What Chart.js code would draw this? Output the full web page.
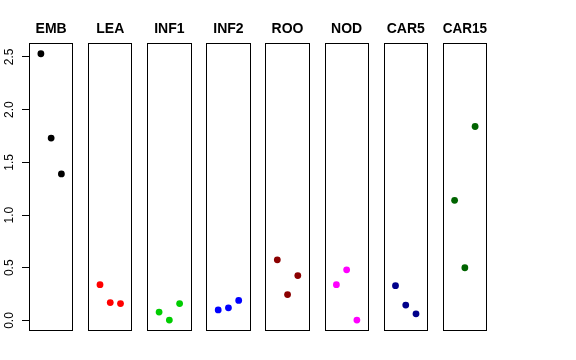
<!DOCTYPE html>
<html>
<head>
<meta charset="utf-8">
<script src="https://cdn.jsdelivr.net/npm/chart.js@4"></script>
<style>
  body { margin: 0; background: #fff; }
  #wrap { position: relative; width: 576px; height: 360px; overflow: hidden; }
  canvas { position: absolute; top: 0; }
</style>
</head>
<body>
<div id="wrap"></div>
<script>
// panel names and values (3 points per panel)
const panelNames = ['EMB', 'LEA', 'INF1', 'INF2', 'ROO', 'NOD', 'CAR5', 'CAR15'];
const EMB   = [2.53, 1.73, 1.39];
const LEA   = [0.34, 0.17, 0.16];
const INF1  = [0.08, 0.004, 0.16];
const INF2  = [0.10, 0.12, 0.19];
const ROO   = [0.575, 0.246, 0.426];
const NOD   = [0.34, 0.48, 0.004];
const CAR5  = [0.33, 0.146, 0.063];
const CAR15 = [1.14, 0.50, 1.84];
const seriesValues = [EMB, LEA, INF1, INF2, ROO, NOD, CAR5, CAR15];
const pointColors = ['#000000', '#FF0000', '#00CD00', '#0000FF', '#8B0000', '#FF00FF', '#00008B', '#006400'];
const yTicks = [0, 0.5, 1, 1.5, 2, 2.5];
const yMin = -0.097, yMax = 2.629;
const xMin = -0.16, xMax = 4.16;

// layout of the panel boxes
const boxLeft0 = 29, boxStep = 59.1, boxWidth = 44.3, boxBottom = 330.7;
const margin = 8;

Chart.defaults.font.family = "'Liberation Sans', Arial, Helvetica, sans-serif";
Chart.defaults.color = '#000';

// frame around each plot area
const boxPlugin = {
  id: 'box',
  afterDatasetsDraw(chart) {
    const a = chart.chartArea, ctx = chart.ctx;
    const l = Math.round(a.left) + 0.5, t = Math.round(a.top) + 0.5;
    const r = Math.round(a.right) - 0.5, b = Math.round(a.bottom) - 0.5;
    ctx.save();
    ctx.strokeStyle = '#000';
    ctx.lineWidth = 1;
    ctx.strokeRect(l, t, r - l, b - t);
    ctx.restore();
  }
};

const wrap = document.getElementById('wrap');

panelNames.forEach((name, i) => {
  const left = boxLeft0 + i * boxStep;
  const first = i === 0;
  const cLeft = first ? 0 : Math.floor(left - margin);
  const cRight = Math.ceil(left + boxWidth + margin);
  const canvas = document.createElement('canvas');
  canvas.width = cRight - cLeft;
  canvas.height = 360;
  canvas.style.left = cLeft + 'px';
  wrap.appendChild(canvas);

  new Chart(canvas, {
    type: 'scatter',
    data: {
      datasets: [{
        data: seriesValues[i].map((v, j) => ({ x: j + 1, y: v })),
        backgroundColor: pointColors[i],
        borderWidth: 0,
        pointRadius: 3.4,
        pointHoverRadius: 3.4
      }]
    },
    options: {
      responsive: false,
      animation: false,
      events: [],
      layout: {
        padding: {
          left: first ? 0 : left - cLeft,
          right: cRight - (left + boxWidth),
          top: 0,
          bottom: 360 - boxBottom
        }
      },
      plugins: {
        legend: { display: false },
        tooltip: { enabled: false },
        title: {
          display: true,
          text: name,
          fullSize: false,
          color: '#000',
          font: { size: 14, weight: 'bold' },
          padding: { top: 21, bottom: 5.5 }
        }
      },
      scales: {
        x: { type: 'linear', display: false, min: xMin, max: xMax },
        y: {
          display: first,
          min: yMin,
          max: yMax,
          afterFit(s) { if (first) s.width = left; },
          afterBuildTicks(s) { s.ticks = yTicks.map(v => ({ value: v })); },
          ticks: {
            callback: v => v.toFixed(1),
            color: '#000',
            font: { size: 12 },
            minRotation: 90,
            maxRotation: 90,
            crossAlign: 'center',
            padding: 3.5,
            autoSkip: false
          },
          grid: { drawOnChartArea: false, drawTicks: true, tickLength: 7, color: '#000' },
          border: { display: true, color: '#000' }
        }
      }
    },
    plugins: [boxPlugin]
  });
});
</script>
</body>
</html>
